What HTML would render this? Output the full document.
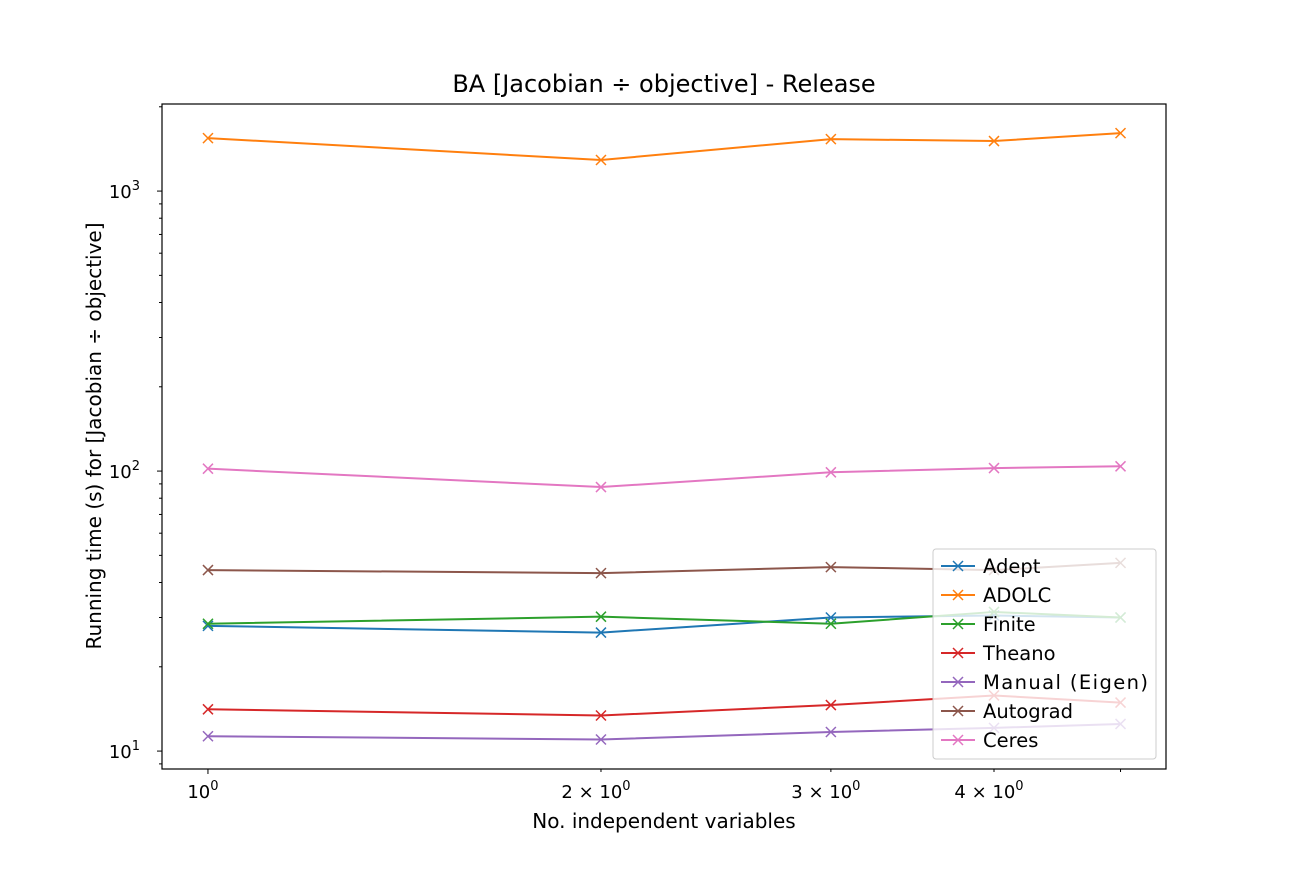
<!DOCTYPE html>
<html><head><meta charset="utf-8"><style>
body{margin:0;background:#fff;}
svg text{font-family:"DejaVu Sans","Liberation Sans",sans-serif;fill:#000;}
</style></head><body>
<svg id="chart" width="1296" height="864" xmlns="http://www.w3.org/2000/svg">
<rect width="1296" height="864" fill="#fff"/>
<text x="664" y="92" font-size="24" text-anchor="middle">BA [Jacobian ÷ objective] - Release</text>
<text x="664" y="828" font-size="20" text-anchor="middle">No. independent variables</text>
<text transform="translate(101,436) rotate(-90)" font-size="20" text-anchor="middle">Running time (s) for [Jacobian ÷ objective]</text>
<g id="axes"></g><g id="series"></g>
<rect x="162" y="104" width="1004" height="665" fill="none" stroke="#000" stroke-width="1.2"/>
<g id="legend"></g>
</svg>
<script>
const xValues=[1,2,3,4,5];
const seriesNames=["Adept","ADOLC","Finite","Theano","Manual (Eigen)","Autograd","Ceres"];
const seriesColors=["#1f77b4","#ff7f0e","#2ca02c","#d62728","#9467bd","#8c564b","#e377c2"];
const adept=[28.0,26.5,30.0,30.5,30.0];
const adolc=[1546,1291,1533,1509,1611];
const finite=[28.5,30.2,28.5,31.4,30.0];
const theano=[14.1,13.4,14.6,15.8,14.9];
const manual=[11.3,11.0,11.7,12.1,12.5];
const autograd=[44.3,43.2,45.4,44.3,47.0];
const ceres=[102,87.7,99,102.5,104];
const allSeries=[adept,adolc,finite,theano,manual,autograd,ceres];
const yMajor=[10,100,1000];
const yMajorLabels=["1","2","3"];
const xTicks=[1,2,3,4,5];
const xTickLabels=["10","2 \u00d7 10","3 \u00d7 10","4 \u00d7 10",""];

const NS="http://www.w3.org/2000/svg";
const L=162,R=1166,T=104,B=769;
const xMin=-0.0352,xMax=0.7338,yMin=0.936,yMax=3.311;
function xs(v){return L+(Math.log10(v)-xMin)/(xMax-xMin)*(R-L);}
function ys(v){return B-(Math.log10(v)-yMin)/(yMax-yMin)*(B-T);}
function el(tag,attrs,parent){const e=document.createElementNS(NS,tag);for(const k in attrs)e.setAttribute(k,attrs[k]);parent.appendChild(e);return e;}
const axes=document.getElementById('axes');
for(let d=0;d<=3;d++){for(let m=1;m<=9;m++){const v=m*Math.pow(10,d);const lv=Math.log10(v);if(lv<yMin||lv>yMax)continue;
 const y=ys(v);const t=el('line',{x1:L,x2:L-(m==1?5:3),y1:y,y2:y,stroke:'#000','stroke-width':1},axes);
 }}
yMajor.forEach((v,i)=>{const y=ys(v);
 const t=el('text',{x:140,y:y+7,'font-size':18,'text-anchor':'end'},axes);
 
 t.textContent='10';const s=el('tspan',{dy:-8,'font-size':13},t);s.textContent=yMajorLabels[i];});
xTicks.forEach((v,i)=>{const x=xs(v);
 const l=el('line',{x1:x,x2:x,y1:B,y2:B+(i==0?5:3),stroke:'#000','stroke-width':1},axes);
 
 if(xTickLabels[i]){const t=el('text',{x:x-5,y:B+29,'font-size':18,'text-anchor':'middle'},axes);
 
 t.textContent=xTickLabels[i];const s=el('tspan',{dy:-8,'font-size':13},t);s.textContent='0';}});
const sg=document.getElementById('series');
function marker(g,x,y,c){const r=5;
 el('line',{x1:x-r,y1:y-r,x2:x+r,y2:y+r,stroke:c,'stroke-width':1.5},g);
 el('line',{x1:x-r,y1:y+r,x2:x+r,y2:y-r,stroke:c,'stroke-width':1.5},g);}
allSeries.forEach((vals,si)=>{const g=el('g',{},sg);
 
 
 const pts=vals.map((v,i)=>xs(xValues[i])+','+ys(v)).join(' ');
 el('polyline',{points:pts,fill:'none',stroke:seriesColors[si],'stroke-width':2},g);
 vals.forEach((v,i)=>marker(g,xs(xValues[i]),ys(v),seriesColors[si]));});
const lg=document.getElementById('legend');
el('rect',{x:933,y:549,width:223,height:210,rx:3,fill:'#fff','fill-opacity':0.8,stroke:'#ccc'},lg);
seriesNames.forEach((n,i)=>{const y=566+i*29;const g=el('g',{},lg);
 
 el('line',{x1:941,x2:975,y1:y,y2:y,stroke:seriesColors[i],'stroke-width':2},g);
 marker(g,958,y,seriesColors[i]);
 const t=el('text',{x:983,y:y+7,'font-size':19.5,textLength:n.length>10?165:null},g);
 if(n.length<=10)t.removeAttribute('textLength');
 t.textContent=n;});
</script>
</body></html>
